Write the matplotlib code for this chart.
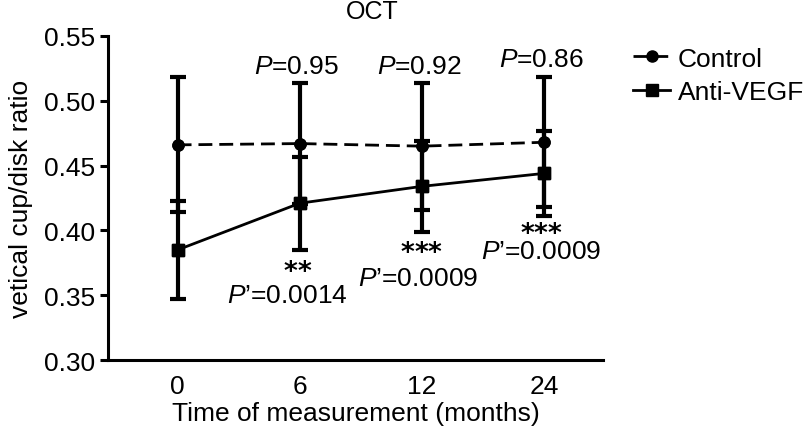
import matplotlib
matplotlib.use("Agg")
import matplotlib.pyplot as plt

plt.rcParams["font.family"] = ["Liberation Sans", "DejaVu Sans"]
plt.rcParams["mathtext.fontset"] = "custom"
plt.rcParams["mathtext.rm"] = "Liberation Sans"
plt.rcParams["mathtext.it"] = "Liberation Sans:italic"
plt.rcParams["mathtext.bf"] = "DejaVu Sans:bold"

# data
months = ["0", "6", "12", "24"]
control_mean = [0.466, 0.467, 0.465, 0.468]
control_err = [0.052, 0.047, 0.049, 0.050]
anti_mean = [0.385, 0.421, 0.434, 0.444]
anti_err = [0.038, 0.036, 0.035, 0.033]
p_labels = ["", "=0.95", "=0.92", "=0.86"]
n_stars = [0, 2, 3, 3]
p_prime = ["", "=0.0014", "=0.0009", "=0.0009"]

x = list(range(len(months)))

fig = plt.figure(figsize=(8.1, 4.35), dpi=100)
ax = fig.add_axes([0.1333, 0.170, 0.611, 0.745])

ax.errorbar(x, control_mean, yerr=control_err, fmt="o", color="black",
            ecolor="black", elinewidth=3, capsize=6, capthick=3,
            markersize=8, zorder=3)
ax.plot(x, control_mean, color="black", linestyle=(0, (5, 2.5)), linewidth=2,
        marker="o", markersize=8, label="Control", zorder=4)

ax.errorbar(x, anti_mean, yerr=anti_err, fmt="s", color="black",
            ecolor="black", elinewidth=3, capsize=6, capthick=3,
            markersize=9, zorder=3)
ax.plot(x, anti_mean, color="black", linestyle="-", linewidth=2,
        marker="s", markersize=9, label="Anti-VEGF", zorder=4)

ax.set_xlim(-0.57, 3.48)
ax.set_ylim(0.30, 0.55)
ax.set_yticks([0.30, 0.35, 0.40, 0.45, 0.50, 0.55])
ax.set_yticklabels(["0.30", "0.35", "0.40", "0.45", "0.50", "0.55"])
ax.set_xticks(x)
ax.set_xticklabels(months)
ax.tick_params(axis="y", labelsize=19, width=2.2, length=6, direction="out")
ax.tick_params(axis="x", labelsize=19, length=0, pad=10)

for s in ["top", "right"]:
    ax.spines[s].set_visible(False)
for s in ["left", "bottom"]:
    ax.spines[s].set_linewidth(2.2)

ax.set_xlabel("Time of measurement (months)", fontsize=19, labelpad=2)
ax.set_ylabel("vetical cup/disk ratio", fontsize=19, labelpad=8)
fig.text(372 / 810, 1 - 12 / 435, "OCT", ha="center", va="center", fontsize=18)

# P values above the control bars
p_off = [0, 12, 12, 13]
for i in range(1, 4):
    ax.annotate("$\\it{P}$" + p_labels[i], (x[i], control_mean[i] + control_err[i]),
                xytext=(-2, p_off[i]), textcoords="offset points",
                ha="center", va="center", fontsize=19)

# significance stars + P' values below (one text each)
lead = ["", "   ", " ", ""]
top_off = [0, -7, -7, -3]
dx = [0, -9, -3, -2]
spacing = [0, 0.95, 1.05, 0.72]
for i in range(1, 4):
    low = min(anti_mean[i] - anti_err[i], control_mean[i] - control_err[i])
    star_str = "$\\mathbf{" + "{*}" * n_stars[i] + "}$"
    label = lead[i] + star_str + "\n" + "$\\it{P}$\u2019" + p_prime[i]
    ax.annotate(label, (x[i], low), xytext=(dx[i], top_off[i]),
                textcoords="offset points", ha="center", va="top",
                multialignment="center", linespacing=spacing[i], fontsize=19)

leg = ax.legend(loc="upper left", bbox_to_anchor=(1.04, 1.0), frameon=False,
                fontsize=19, handlelength=1.4, handletextpad=0.3,
                labelspacing=0.35, borderaxespad=0)

fig.savefig("out.png", dpi=100)
